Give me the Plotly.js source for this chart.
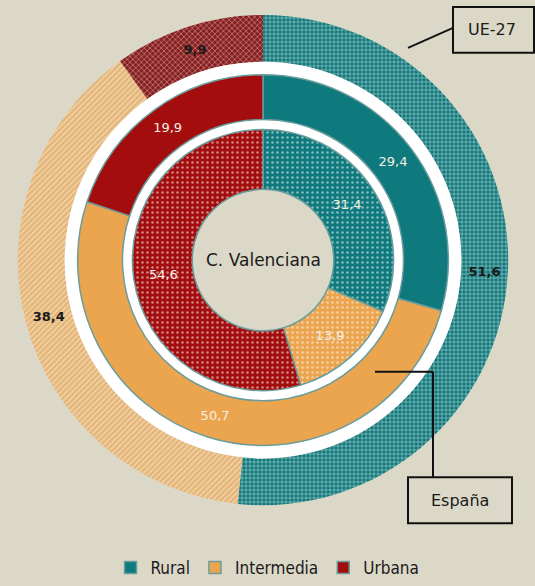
<!DOCTYPE html>
<html><head><meta charset="utf-8">
<script src="https://cdn.plot.ly/plotly-3.0.1.min.js"></script>
<style>body{margin:0;background:#dcd8c8}</style>
</head><body><div id="chart" style="width:535px;height:586px"></div>
<script>
const categories = ["Rural", "Intermedia", "Urbana"];
const ue27 = [51.6, 38.4, 9.9];
const espana = [29.4, 50.7, 19.9];
const cValenciana = [31.4, 13.9, 54.6];

const W = 535, H = 586, CX = 263, CY = 261;
function dom(r) {
  return {x: [(CX - r) / W, (CX + r) / W], y: [(H - CY - r) / H, (H - CY + r) / H]};
}
const teal = "#0f7a7d", orange = "#eba54e", red = "#a40d0d";
const common = {type: "pie", sort: false, direction: "clockwise", rotation: 0,
  textinfo: "text", texttemplate: "%{value:.1f}", textposition: "inside",
  insidetextorientation: "horizontal", hoverinfo: "none"};

const traces = [
  Object.assign({}, common, {
    labels: categories, values: ue27, domain: dom(246), hole: 199/246, showlegend: false,
    marker: {colors: ["#1a8083", "#e6bb82", "#8a2b2b"],
      line: {color: "#dcd8c8", width: 0},
      pattern: {shape: ["+", "/", "x"], bgcolor: ["#0f7679", "#e4b57a", "#861f1f"],
        fgcolor: ["#b8dcdc", "#f7dfb8", "#d9a3a3"], fgopacity: 0.85, size: 4, solidity: 0.3}},
    textfont: {family: "DejaVu Sans", size: 13, color: "#1a1a1a", weight: "bold"}
  }),
  {type: "pie", labels: ["bg"], values: [1], domain: dom(199), hole: 131/199, showlegend: false,
   textinfo: "none", hoverinfo: "none", marker: {colors: ["#ffffff"], line: {width: 0}}, sort: false},
  Object.assign({}, common, {
    labels: categories, values: espana, domain: dom(186), hole: 141/186, showlegend: true,
    marker: {colors: [teal, orange, red], line: {color: "#6a9c9c", width: 1.5}},
    textfont: {family: "DejaVu Sans", size: 13, color: "#f4f0e6"}
  }),
  Object.assign({}, common, {
    labels: categories, values: cValenciana, domain: dom(131), hole: 71/131, showlegend: false,
    marker: {colors: [teal, orange, red], line: {color: "#6a9c9c", width: 1.5},
      pattern: {shape: ".", bgcolor: [teal, orange, red], fgcolor: "#ffffff", fgopacity: 0.5, size: 5, solidity: 0.2}},
    textfont: {family: "DejaVu Sans", size: 13, color: "#f4f0e6"}
  })
];

const layout = {
  width: W, height: H, margin: {l: 0, r: 0, t: 0, b: 0},
  paper_bgcolor: "#dcd8c8", plot_bgcolor: "#dcd8c8",
  separators: ",.",
  showlegend: true,
  legend: {orientation: "h", x: 0.5, xanchor: "center", y: 0.027, yanchor: "middle",
    font: {family: "DejaVu Sans Condensed", size: 17, color: "#1a1a1a"}, itemwidth: 30, traceorder: "normal"},
  annotations: [
    {text: "C. Valenciana", x: CX / W, y: (H - CY) / H, xref: "paper", yref: "paper", showarrow: false,
     xanchor: "center", yanchor: "middle", font: {family: "DejaVu Sans", size: 17, color: "#1a1a1a"}},
    {text: "UE-27", x: 492 / W, y: (H - 30) / H, xref: "paper", yref: "paper", showarrow: false,
     xanchor: "center", yanchor: "middle", font: {family: "DejaVu Sans", size: 16, color: "#1a1a1a"}},
    {text: "España", x: 460 / W, y: (H - 502) / H, xref: "paper", yref: "paper", showarrow: false,
     xanchor: "center", yanchor: "middle", font: {family: "DejaVu Sans", size: 16, color: "#1a1a1a"}}
  ],
  shapes: [
    {type: "rect", xref: "paper", yref: "paper", x0: 453 / W, x1: 534 / W, y0: (H - 53) / H, y1: (H - 7) / H,
     line: {color: "#111", width: 2}},
    {type: "line", xref: "paper", yref: "paper", x0: 408 / W, y0: (H - 48) / H, x1: 453 / W, y1: (H - 28) / H,
     line: {color: "#111", width: 2}},
    {type: "rect", xref: "paper", yref: "paper", x0: 408 / W, x1: 512 / W, y0: (H - 525) / H, y1: (H - 479) / H,
     line: {color: "#111", width: 2}},
    {type: "line", xref: "paper", yref: "paper", x0: 375 / W, y0: (H - 373) / H, x1: 433 / W, y1: (H - 373) / H,
     line: {color: "#111", width: 2}},
    {type: "line", xref: "paper", yref: "paper", x0: 433 / W, y0: (H - 373) / H, x1: 433 / W, y1: (H - 479) / H,
     line: {color: "#111", width: 2}}
  ]
};
Plotly.newPlot("chart", traces, layout, {displayModeBar: false, staticPlot: true});
</script></body></html>
